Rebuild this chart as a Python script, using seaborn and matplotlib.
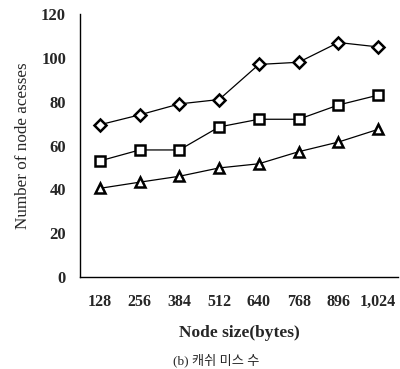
import matplotlib
matplotlib.use("Agg")
import matplotlib.pyplot as plt
import seaborn as sns
import pandas as pd
import numpy as np

# Node sizes (bytes) and node accesses per configuration
node_sizes = ["128", "256", "384", "512", "640", "768", "896", "1,024"]
series_diamond = [69.5, 74, 79, 81, 97, 98, 107, 105]
series_square = [53, 58, 58, 68.5, 72, 72, 78.5, 83]
series_triangle = [40.5, 43.3, 46, 49.8, 51.7, 57.2, 61.6, 67.4]
y_ticks = [0, 20, 40, 60, 80, 100, 120]

sns.set_theme(style="white")
plt.rcParams["font.family"] = ["Liberation Serif", "Noto Sans CJK KR"]

pos = np.arange(len(node_sizes))
df = pd.DataFrame({
    "pos": np.tile(pos, 3),
    "val": series_diamond + series_square + series_triangle,
    "series": ["d"] * 8 + ["s"] * 8 + ["t"] * 8,
})

fig = plt.figure(figsize=(4.0, 3.69), dpi=100)
ax = fig.add_axes([0.2, 0.249, 0.795, 0.713])

sns.lineplot(data=df, x="pos", y="val", style="series",
             markers={"d": "D", "s": "s", "t": "^"}, dashes=False,
             color="black", linewidth=0.9, legend=False, ax=ax,
             markersize=6.5, markerfacecolor="white", markeredgecolor="black",
             markeredgewidth=1.8)

ax.set_xlim(-0.5, 7.5)
ax.set_ylim(0, 120)
ax.set_yticks(y_ticks)
ax.set_yticklabels([str(v) for v in y_ticks], fontsize=12, fontweight="bold")
ax.set_xticks(pos)
ax.set_xticklabels(node_sizes, fontsize=11.5, fontweight="bold")
ax.set_xticks(pos[:-1] + 0.5, minor=True)
ax.tick_params(axis="x", which="major", length=0, pad=12)
ax.tick_params(axis="x", which="minor", direction="in", length=3, width=0.8, color="black")
ax.tick_params(axis="y", which="major", direction="in", length=3, width=0.8, color="black", pad=10)

for side in ["top", "right"]:
    ax.spines[side].set_visible(False)
for side in ["left", "bottom"]:
    ax.spines[side].set_color("black")
    ax.spines[side].set_linewidth(1.0)

ax.set_xlabel("Node size(bytes)", fontsize=12.5, fontweight="bold", labelpad=11)
ax.set_ylabel("Number of node acesses", fontsize=12.3, labelpad=7)

fig.text(0.54, 0.024, "(b) 캐쉬 미스 수", ha="center", va="center", fontsize=9.5)

fig.savefig("out.png", dpi=100)
